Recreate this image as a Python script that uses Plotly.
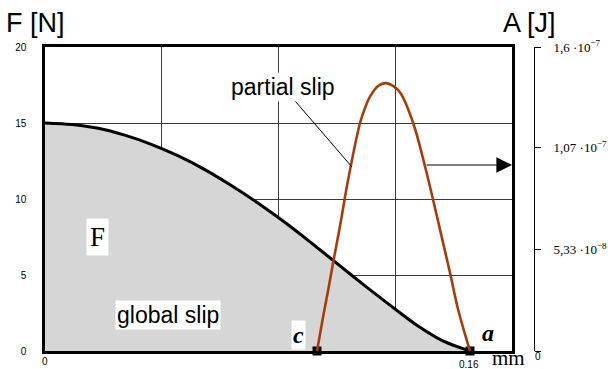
import plotly.graph_objects as go

# Friction force F [N] along the displacement [mm]
dist_F = [0, 0.01, 0.02, 0.03, 0.04, 0.05, 0.06, 0.07, 0.08, 0.09,
          0.10, 0.11, 0.12, 0.13, 0.14, 0.15, 0.16]
force = [15.0, 14.9, 14.65, 14.2, 13.6, 12.85, 11.95, 10.9, 9.75, 8.5,
         7.15, 5.75, 4.35, 3.0, 1.7, 0.65, 0.0]

# Dissipated work A [J] (values in units of 1e-7)
dist_A = [0.1024, 0.1047, 0.1066, 0.1084, 0.1111, 0.1141, 0.1186, 0.1205,
          0.1224, 0.1254, 0.1284, 0.131, 0.1337, 0.1386, 0.1431, 0.1487,
          0.1525, 0.1555, 0.16]
work_e7 = [0, 0.18, 0.32, 0.46, 0.66, 0.9, 1.2, 1.28, 1.34, 1.395, 1.41,
           1.395, 1.36, 1.2, 0.97, 0.64, 0.41, 0.22, 0]

# end points c and a
pts_x = [0.1024, 0.16]
pts_y = [0, 0]

f_ticks = [0, 5, 10, 15, 20]
a_ticks = [0, 0.533, 1.07, 1.6]
a_ticktext = ['', '5,33 ·10<sup>−8</sup>', '1,07 ·10<sup>−7</sup>', '1,6 ·10<sup>−7</sup>']

x_max = 0.16 * 467 / 425
sans = 'Liberation Sans, Arial, sans-serif'
narrow = 'Liberation Sans Narrow, Liberation Sans, Arial, sans-serif'
serif = 'Liberation Serif, Times New Roman, serif'


def px(x):
    return (x - 45) / 489


def py(y):
    return (351 - y) / 304


fig = go.Figure()

fig.add_trace(go.Scatter(
    x=dist_F, y=force, mode='lines', line=dict(color='black', width=3, shape='spline', smoothing=0.8),
    fill='tozeroy', fillcolor='#d6d6d6', showlegend=False, hoverinfo='skip'))

fig.add_trace(go.Scatter(
    x=dist_A, y=work_e7, yaxis='y2', mode='lines',
    line=dict(color='#a83c08', width=2.6, shape='spline', smoothing=1),
    showlegend=False, hoverinfo='skip'))

fig.add_trace(go.Scatter(
    x=pts_x, y=pts_y, mode='markers', marker=dict(symbol='square', size=9, color='black'),
    cliponaxis=False, showlegend=False, hoverinfo='skip'))

fig.update_layout(
    width=608, height=369,
    margin=dict(l=45, r=74, t=47, b=18),
    paper_bgcolor='white', plot_bgcolor='white',
    xaxis=dict(domain=[0, 467 / 489], range=[0, x_max], tick0=0, dtick=x_max / 4, automargin=False,
               showticklabels=False, ticks='', showgrid=True, gridcolor='#3a3a3a', gridwidth=1,
               showline=True, linecolor='black', linewidth=2.5, mirror=True, zeroline=False),
    yaxis=dict(range=[0, 20], tickvals=f_ticks, showgrid=True, gridcolor='#3a3a3a', gridwidth=1,
               showline=True, linecolor='black', linewidth=2.5, mirror=True, zeroline=False,
               ticks='', ticklabelstandoff=14, automargin=False,
               tickfont=dict(family=narrow, size=10, color='black')),
    yaxis2=dict(range=[0, 1.6], overlaying='y', side='right', anchor='free', position=1,
                tickvals=a_ticks, ticktext=a_ticktext, showgrid=False, zeroline=False,
                showline=True, linecolor='black', linewidth=1, automargin=False,
                ticks='outside', ticklen=6, tickcolor='black', ticklabelstandoff=10,
                tickfont=dict(family=serif, size=13, color='black')),
)

ann = [
    dict(text='F [N]', x=px(4), y=py(23), xanchor='left', font=dict(family=sans, size=27)),
    dict(text='A [J]', x=px(501), y=py(23), xanchor='left', font=dict(family=sans, size=27)),
    dict(text='0', x=px(45), y=py(361), font=dict(family=narrow, size=10)),
    dict(text='0.16', x=px(469), y=py(364), font=dict(family=narrow, size=10)),
    dict(text='mm', x=px(508), y=py(358), font=dict(family=serif, size=21)),
    dict(text='0', x=px(538), y=py(356), font=dict(family=narrow, size=10)),
    dict(text='F', x=px(97), y=py(237), bgcolor='white', borderpad=3, font=dict(family=serif, size=27)),
    dict(text='global slip', x=px(168), y=py(315), bgcolor='white', borderpad=1, font=dict(family=sans, size=23)),
    dict(text='<b><i>c</i></b>', x=px(298), y=py(335), bgcolor='white', borderpad=1, font=dict(family=serif, size=24)),
    dict(text='<b><i>a</i></b>', x=px(488), y=py(333), bgcolor='white', borderpad=1, font=dict(family=serif, size=24)),
]
for a in ann:
    a.update(xref='paper', yref='paper', showarrow=False, yanchor='middle')
    a.setdefault('xanchor', 'center')
    a['font'].setdefault('color', 'black')
    fig.add_annotation(**a)

# "partial slip" label with leader line to the work curve
fig.add_annotation(text='partial slip', xref='paper', yref='paper', x=px(352), y=py(167),
                   ax=-69, ay=-80, showarrow=True, arrowhead=0, arrowwidth=1, arrowcolor='black',
                   bgcolor='white', borderpad=1, font=dict(family=sans, size=23, color='black'))

# arrow pointing at the right-hand axis
fig.add_annotation(text='', xref='paper', yref='paper', x=px(512), y=py(165), ax=-87, ay=0,
                   showarrow=True, arrowhead=2, arrowsize=2.6, arrowwidth=1.2, arrowcolor='black')

# drop the browser's default body margin so the figure sits at the page corner
fig.write_html("out.html", config={'displayModeBar': False},
               post_script="document.body.style.margin='0';")
